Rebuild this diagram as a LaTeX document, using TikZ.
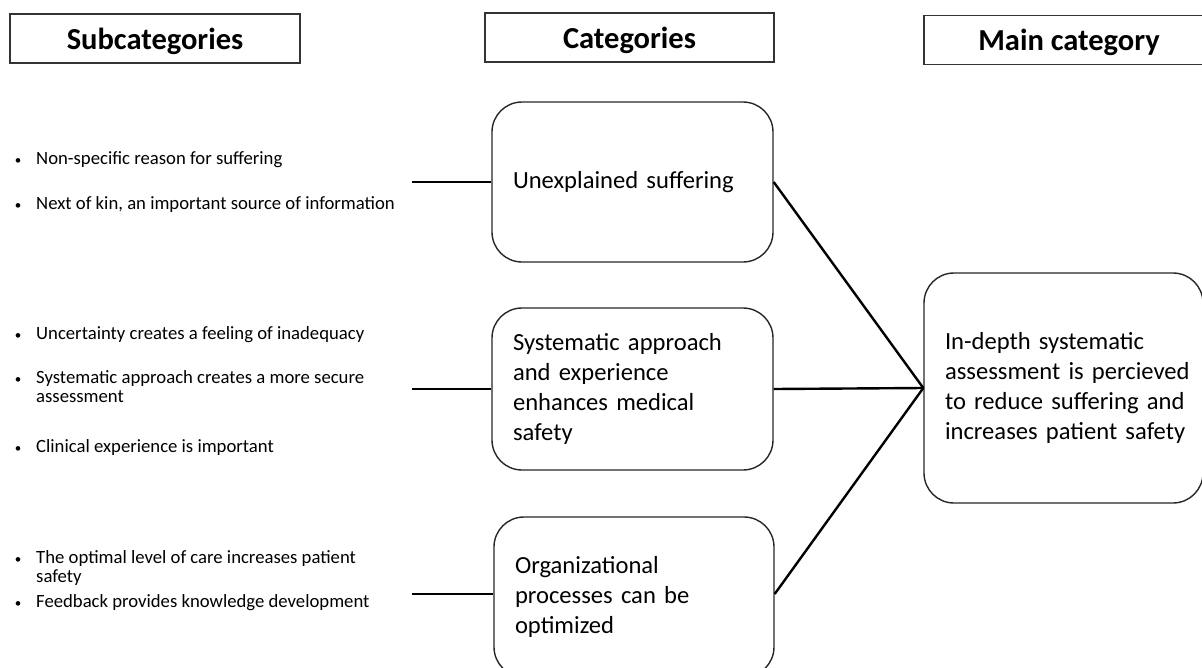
\documentclass[tikz,border=0pt]{standalone}
\usepackage{fontspec}
\setmainfont{Carlito}
\begin{document}
\begin{tikzpicture}[x=1pt,y=-1pt,
  hdr/.style={draw=black!80,line width=1.3pt,minimum height=49pt,inner sep=0pt,text depth=0pt,font=\fontsize{30.5}{34}\selectfont\bfseries},
  cat/.style={draw=black!85,line width=1.4pt,rounded corners=30pt,align=left,inner xsep=21pt,font=\fontsize{24.6}{30}\selectfont},
  bul/.style={anchor=base west,inner sep=0pt,font=\fontsize{18.7}{19}\selectfont},
  dot/.style={anchor=base,inner sep=0pt,font=\fontsize{13}{19}\selectfont},
  conn/.style={line width=2.4pt}]
\useasboundingbox (0,0) rectangle (1202,667);
% headers
\node[hdr,minimum width=290pt] (hs) at (155,38.5) {Subcategories};
\node[hdr,minimum width=289pt] (hc) at (629.5,37.5) {Categories};
\node[hdr,minimum width=290pt] (hm) at (1069,40) {Main category};
% category boxes
\node[cat,text width=239pt,minimum height=160pt] (c1) at (632.5,182) {\mbox{Unexplained suffering}};
\node[cat,text width=239pt,minimum height=162pt] (c2) at (632.5,389) {\mbox{Systematic approach}\\\mbox{and experience}\\\mbox{enhances medical}\\safety};
\node[cat,text width=238pt,minimum height=160pt] (c3) at (634,597) {Organizational\\\mbox{processes can be}\\optimized};
\node[cat,text width=237pt,minimum height=230pt] (m) at (1063.5,388) {\mbox{In-depth systematic}\\\mbox{assessment is percieved}\\\mbox{to reduce suffering and}\\\mbox{increases patient safety}};
% bullets
\foreach \y/\t [count=\i] in {
  164/{Non-specific reason for suffering},
  209/{Next of kin, an important source of information},
  339/{Uncertainty creates a feeling of inadequacy},
  383/{Systematic approach creates a more secure},
  452/{Clinical experience is important},
  563/{The optimal level of care increases patient},
  607/{Feedback provides knowledge development}}{
  \node[dot] (d\i) at (18,\y) {•};
  \node[bul] (b\i) at (36,\y) {\t};
}
\node[bul] (b4b) at (36,402) {assessment};
\node[bul] (b6b) at (36,582) {safety};
% connectors
\coordinate (l1) at (412,182);
\coordinate (l2) at (412,389);
\coordinate (l3) at (412,594);
\draw[conn] (l1) -- (l1 -| c1.west);
\draw[conn] (l2) -- (c2.west);
\draw[conn] (l3) -- (l3 -| c3.west);
\draw[conn] (c1.east) -- (m.west);
\draw[conn] (c2.east) -- (m.west);
\draw[conn] (c3.east |- l3) -- (m.west);
\end{tikzpicture}
\end{document}
